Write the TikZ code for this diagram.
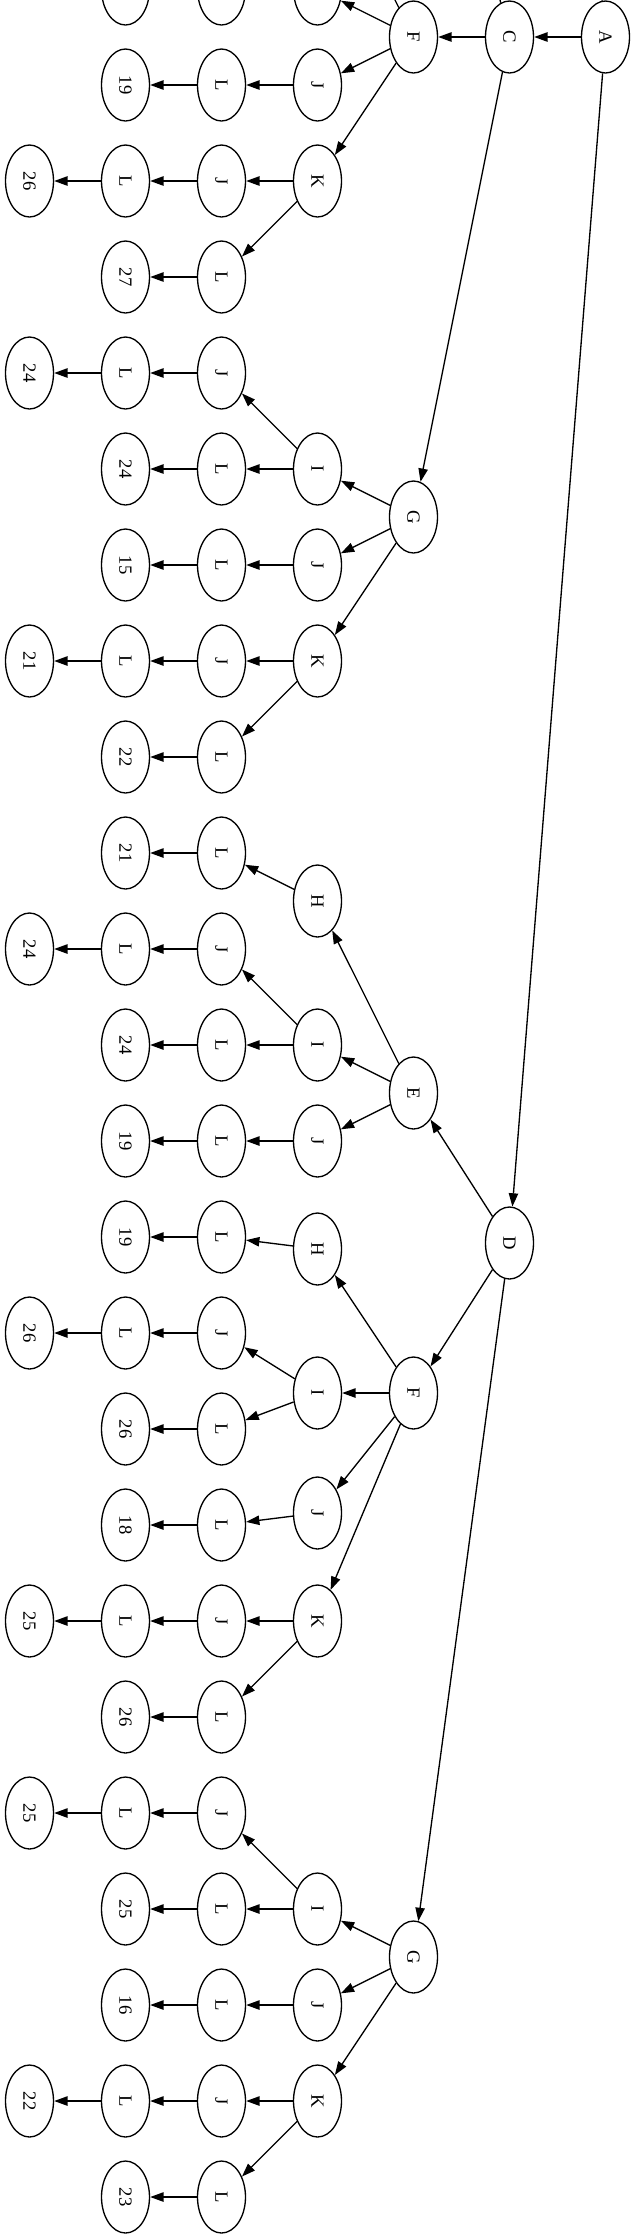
\documentclass[tikz,border=0pt]{standalone}
\usepackage{fontspec}
\setmainfont{Liberation Serif}
\usepackage{tikz}
\usetikzlibrary{shapes}
\usetikzlibrary{arrows.meta}

\begin{document}
\begin{tikzpicture}[x=0.75pt, y=-0.75pt, line width=1pt, >={Triangle[length=10pt,width=7pt]},
    every node/.style={draw, ellipse, minimum width=54pt, minimum height=36pt, inner sep=0pt, rotate=-90, font=\fontsize{14pt}{16pt}\selectfont}]
            \useasboundingbox (0,0) rectangle (635,2239);
            \clip (0,0) rectangle (635,2239);
            \node (a) at (605.5,37) {A};
            \node (c) at (509.5,37) {C};
            \node (d) at (509.5,1243) {D};
            \coordinate (a_up) at (509.5,-1000);
            \coordinate (c_up) at (413.5,-337);
            \node (f1) at (413.5,37) {F};
            \coordinate (f1_up) at (317.5,-155);
            \node (f1_i) at (317.5,-11) {};
            \node (f1_il) at (221.5,-11) {};
            \node (f1_il_n) at (125.5,-11) {};
            \node (f1_j) at (317.5,85) {J};
            \node (f1_jl) at (221.5,85) {L};
            \node (f1_jl_n) at (125.5,85) {19};
            \node (f1_k) at (317.5,181) {K};
            \node (f1_kj) at (221.5,181) {J};
            \node (f1_kjl) at (125.5,181) {L};
            \node (f1_kjl_n) at (29.5,181) {26};
            \node (f1_kl) at (221.5,277) {L};
            \node (f1_kl_n) at (125.5,277) {27};
            \node (g1) at (413.5,517) {G};
            \node (g1_i) at (317.5,469) {I};
            \node (g1_ij) at (221.5,373) {J};
            \node (g1_ijl) at (125.5,373) {L};
            \node (g1_ijl_n) at (29.5,373) {24};
            \node (g1_il) at (221.5,469) {L};
            \node (g1_il_n) at (125.5,469) {24};
            \node (g1_j) at (317.5,565) {J};
            \node (g1_jl) at (221.5,565) {L};
            \node (g1_jl_n) at (125.5,565) {15};
            \node (g1_k) at (317.5,661) {K};
            \node (g1_kj) at (221.5,661) {J};
            \node (g1_kjl) at (125.5,661) {L};
            \node (g1_kjl_n) at (29.5,661) {21};
            \node (g1_kl) at (221.5,757) {L};
            \node (g1_kl_n) at (125.5,757) {22};
            \node (e) at (413.5,1093) {E};
            \node (e_h) at (317.5,901) {H};
            \node (e_hl) at (221.5,853) {L};
            \node (e_hl_n) at (125.5,853) {21};
            \node (e_i) at (317.5,1045) {I};
            \node (e_ij) at (221.5,949) {J};
            \node (e_ijl) at (125.5,949) {L};
            \node (e_ijl_n) at (29.5,949) {24};
            \node (e_il) at (221.5,1045) {L};
            \node (e_il_n) at (125.5,1045) {24};
            \node (e_j) at (317.5,1141) {J};
            \node (e_jl) at (221.5,1141) {L};
            \node (e_jl_n) at (125.5,1141) {19};
            \node (f2) at (413.5,1393) {F};
            \node (f2_h) at (317.5,1249) {H};
            \node (f2_hl) at (221.5,1237) {L};
            \node (f2_hl_n) at (125.5,1237) {19};
            \node (f2_i) at (317.5,1393) {I};
            \node (f2_ij) at (221.5,1333) {J};
            \node (f2_ijl) at (125.5,1333) {L};
            \node (f2_ijl_n) at (29.5,1333) {26};
            \node (f2_il) at (221.5,1429) {L};
            \node (f2_il_n) at (125.5,1429) {26};
            \node (f2_j) at (317.5,1513) {J};
            \node (f2_jl) at (221.5,1525) {L};
            \node (f2_jl_n) at (125.5,1525) {18};
            \node (f2_k) at (317.5,1621) {K};
            \node (f2_kj) at (221.5,1621) {J};
            \node (f2_kjl) at (125.5,1621) {L};
            \node (f2_kjl_n) at (29.5,1621) {25};
            \node (f2_kl) at (221.5,1717) {L};
            \node (f2_kl_n) at (125.5,1717) {26};
            \node (g2) at (413.5,1957) {G};
            \node (g2_i) at (317.5,1909) {I};
            \node (g2_ij) at (221.5,1813) {J};
            \node (g2_ijl) at (125.5,1813) {L};
            \node (g2_ijl_n) at (29.5,1813) {25};
            \node (g2_il) at (221.5,1909) {L};
            \node (g2_il_n) at (125.5,1909) {25};
            \node (g2_j) at (317.5,2005) {J};
            \node (g2_jl) at (221.5,2005) {L};
            \node (g2_jl_n) at (125.5,2005) {16};
            \node (g2_k) at (317.5,2101) {K};
            \node (g2_kj) at (221.5,2101) {J};
            \node (g2_kjl) at (125.5,2101) {L};
            \node (g2_kjl_n) at (29.5,2101) {22};
            \node (g2_kl) at (221.5,2197) {L};
            \node (g2_kl_n) at (125.5,2197) {23};
            \draw[->] (a) -- (a_up);
            \draw[->] (a) -- (c);
            \draw[->] (a) -- (d);
            \draw[->] (c) -- (c_up);
            \draw[->] (c) -- (f1);
            \draw[->] (c) -- (g1);
            \draw[->] (d) -- (e);
            \draw[->] (d) -- (f2);
            \draw[->] (d) -- (g2);
            \draw[->] (f1) -- (f1_up);
            \draw[->] (f1) -- (f1_i);
            \draw[->] (f1) -- (f1_j);
            \draw[->] (f1_j) -- (f1_jl);
            \draw[->] (f1_jl) -- (f1_jl_n);
            \draw[->] (f1) -- (f1_k);
            \draw[->] (f1_k) -- (f1_kj);
            \draw[->] (f1_kj) -- (f1_kjl);
            \draw[->] (f1_kjl) -- (f1_kjl_n);
            \draw[->] (f1_k) -- (f1_kl);
            \draw[->] (f1_kl) -- (f1_kl_n);
            \draw[->] (g1) -- (g1_i);
            \draw[->] (g1_i) -- (g1_ij);
            \draw[->] (g1_ij) -- (g1_ijl);
            \draw[->] (g1_ijl) -- (g1_ijl_n);
            \draw[->] (g1_i) -- (g1_il);
            \draw[->] (g1_il) -- (g1_il_n);
            \draw[->] (g1) -- (g1_j);
            \draw[->] (g1_j) -- (g1_jl);
            \draw[->] (g1_jl) -- (g1_jl_n);
            \draw[->] (g1) -- (g1_k);
            \draw[->] (g1_k) -- (g1_kj);
            \draw[->] (g1_kj) -- (g1_kjl);
            \draw[->] (g1_kjl) -- (g1_kjl_n);
            \draw[->] (g1_k) -- (g1_kl);
            \draw[->] (g1_kl) -- (g1_kl_n);
            \draw[->] (e) -- (e_h);
            \draw[->] (e_h) -- (e_hl);
            \draw[->] (e_hl) -- (e_hl_n);
            \draw[->] (e) -- (e_i);
            \draw[->] (e_i) -- (e_ij);
            \draw[->] (e_ij) -- (e_ijl);
            \draw[->] (e_ijl) -- (e_ijl_n);
            \draw[->] (e_i) -- (e_il);
            \draw[->] (e_il) -- (e_il_n);
            \draw[->] (e) -- (e_j);
            \draw[->] (e_j) -- (e_jl);
            \draw[->] (e_jl) -- (e_jl_n);
            \draw[->] (f2) -- (f2_h);
            \draw[->] (f2_h) -- (f2_hl);
            \draw[->] (f2_hl) -- (f2_hl_n);
            \draw[->] (f2) -- (f2_i);
            \draw[->] (f2_i) -- (f2_ij);
            \draw[->] (f2_ij) -- (f2_ijl);
            \draw[->] (f2_ijl) -- (f2_ijl_n);
            \draw[->] (f2_i) -- (f2_il);
            \draw[->] (f2_il) -- (f2_il_n);
            \draw[->] (f2) -- (f2_j);
            \draw[->] (f2_j) -- (f2_jl);
            \draw[->] (f2_jl) -- (f2_jl_n);
            \draw[->] (f2) -- (f2_k);
            \draw[->] (f2_k) -- (f2_kj);
            \draw[->] (f2_kj) -- (f2_kjl);
            \draw[->] (f2_kjl) -- (f2_kjl_n);
            \draw[->] (f2_k) -- (f2_kl);
            \draw[->] (f2_kl) -- (f2_kl_n);
            \draw[->] (g2) -- (g2_i);
            \draw[->] (g2_i) -- (g2_ij);
            \draw[->] (g2_ij) -- (g2_ijl);
            \draw[->] (g2_ijl) -- (g2_ijl_n);
            \draw[->] (g2_i) -- (g2_il);
            \draw[->] (g2_il) -- (g2_il_n);
            \draw[->] (g2) -- (g2_j);
            \draw[->] (g2_j) -- (g2_jl);
            \draw[->] (g2_jl) -- (g2_jl_n);
            \draw[->] (g2) -- (g2_k);
            \draw[->] (g2_k) -- (g2_kj);
            \draw[->] (g2_kj) -- (g2_kjl);
            \draw[->] (g2_kjl) -- (g2_kjl_n);
            \draw[->] (g2_k) -- (g2_kl);
            \draw[->] (g2_kl) -- (g2_kl_n);
        \end{tikzpicture}
\end{document}
